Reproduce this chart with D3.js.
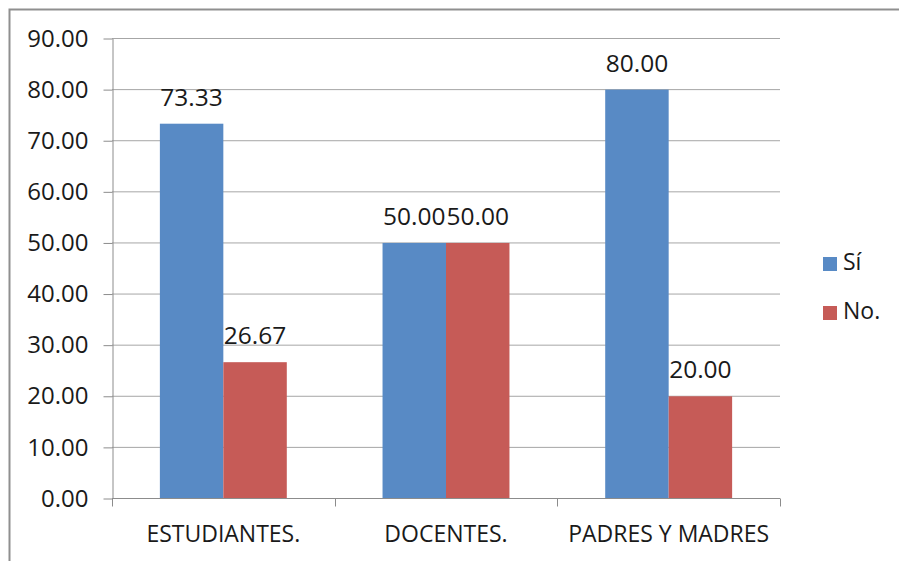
<!DOCTYPE html>
<html>
<head>
<meta charset="utf-8">
<script src="https://cdn.jsdelivr.net/npm/d3@7"></script>
<style>
  body { margin: 0; background: #fff; }
  svg text { font-family: "Open Sans", sans-serif; fill: #1a1a1a; }
  .axis text { font-size: 23px; }
  .y-axis text { font-size: 24px; }
  .axis line, .axis path { stroke: #8c8c8c; }
</style>
</head>
<body>
<svg id="chart"></svg>
<script>
// Data
const categories = ['ESTUDIANTES.', 'DOCENTES.', 'PADRES Y MADRES'];
const series = ['Sí', 'No.'];
const siValues = [73.33, 50.00, 80.00];
const noValues = [26.67, 50.00, 20.00];
const yTicks = [0, 10, 20, 30, 40, 50, 60, 70, 80, 90];
const colors = ['#588AC5', '#C65B57'];

const data = categories.map((c, i) => ({
  category: c,
  values: [
    {key: series[0], value: siValues[i]},
    {key: series[1], value: noValues[i]}
  ]
}));

const width = 899, height = 561;
const plot = {left: 112, right: 780, top: 38.5, bottom: 498.5};

const svg = d3.select('#chart')
  .attr('width', width)
  .attr('height', height);

// Outer frame (runs off the right and bottom edge)
svg.append('rect')
  .attr('x', 9.5).attr('y', 9.5)
  .attr('width', 920).attr('height', 580)
  .attr('fill', 'none')
  .attr('stroke', '#8f8f8f')
  .attr('stroke-width', 2);

// Scales
const x0 = d3.scaleBand()
  .domain(categories)
  .range([plot.left, plot.right])
  .paddingInner(0.43)
  .paddingOuter(0.215);

const x1 = d3.scaleBand()
  .domain(series)
  .range([0, x0.bandwidth()]);

const y = d3.scaleLinear()
  .domain([0, 90])
  .range([plot.bottom, plot.top]);

// Gridlines
svg.append('g')
  .selectAll('line')
  .data(yTicks.filter(d => d > 0))
  .join('line')
  .attr('x1', plot.left)
  .attr('x2', plot.right)
  .attr('y1', d => y(d))
  .attr('y2', d => y(d))
  .attr('stroke', '#a6a6a6');

// Y axis
svg.append('g')
  .attr('class', 'axis y-axis')
  .attr('transform', `translate(${plot.left + 0.5},0)`)
  .call(d3.axisLeft(y)
    .tickValues(yTicks)
    .tickFormat(d3.format('.2f'))
    .tickSizeInner(9)
    .tickSizeOuter(0)
    .tickPadding(15));

// Bars
const groups = svg.append('g')
  .selectAll('g')
  .data(data)
  .join('g')
  .attr('transform', d => `translate(${x0(d.category)},0)`);

groups.selectAll('rect')
  .data(d => d.values)
  .join('rect')
  .attr('x', d => x1(d.key))
  .attr('y', d => y(d.value))
  .attr('width', x1.bandwidth())
  .attr('height', d => y(0) - y(d.value))
  .attr('fill', (d, i) => colors[i]);

// Value labels
groups.selectAll('.value')
  .data(d => d.values)
  .join('text')
  .attr('class', 'value')
  .attr('x', d => x1(d.key) + x1.bandwidth() / 2)
  .attr('y', d => y(d.value) - 18)
  .attr('text-anchor', 'middle')
  .style('font-size', '24.5px')
  .text(d => d3.format('.2f')(d.value));

// X axis: baseline, boundary ticks and category labels
const step = x0.step();
const bounds = categories.map(c => x0(c) - step * x0.paddingInner() / 2);
bounds.push(plot.right);

const xAxisG = svg.append('g').attr('class', 'axis x-axis');

xAxisG.append('line')
  .attr('x1', plot.left).attr('x2', plot.right)
  .attr('y1', plot.bottom).attr('y2', plot.bottom);

xAxisG.selectAll('.tick-mark')
  .data(bounds)
  .join('line')
  .attr('class', 'tick-mark')
  .attr('x1', d => Math.round(d) + 0.5)
  .attr('x2', d => Math.round(d) + 0.5)
  .attr('y1', plot.bottom)
  .attr('y2', plot.bottom + 8);

xAxisG.selectAll('.cat')
  .data(categories)
  .join('text')
  .attr('class', 'cat')
  .attr('x', d => x0(d) + x0.bandwidth() / 2)
  .attr('y', 542)
  .attr('text-anchor', 'middle')
  .text(d => d);

// Legend
const legend = svg.append('g')
  .selectAll('g')
  .data(series)
  .join('g')
  .attr('transform', (d, i) => `translate(823,${257 + i * 49})`);

legend.append('rect')
  .attr('width', 14)
  .attr('height', 14)
  .attr('fill', (d, i) => colors[i]);

legend.append('text')
  .attr('x', 20)
  .attr('y', 13)
  .style('font-size', '23px')
  .text(d => d);
</script>
</body>
</html>
